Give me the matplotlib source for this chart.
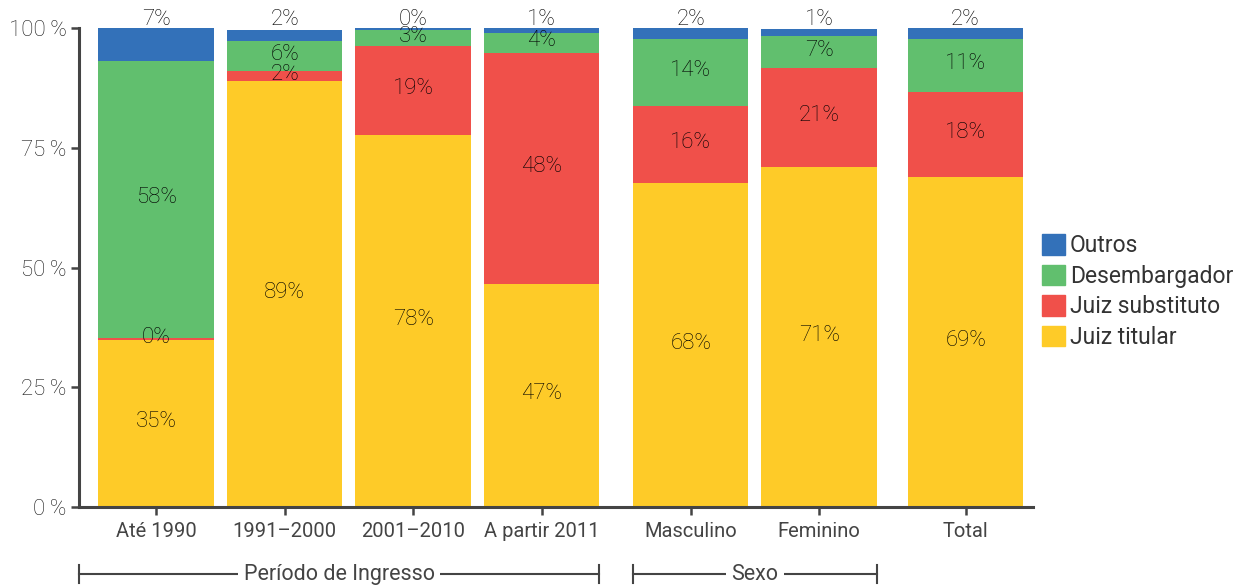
import matplotlib
matplotlib.use("Agg")
import matplotlib.pyplot as plt
import matplotlib.transforms as mtransforms
from matplotlib.patches import Patch
import numpy as np

plt.rcParams['font.family'] = ['Roboto', 'DejaVu Sans']

categorias = ['Até 1990', '1991–2000', '2001–2010', 'A partir 2011',
              'Masculino', 'Feminino', 'Total']
posicoes = [0, 1, 2, 3, 4.16, 5.16, 6.3]

juiz_titular = [34.9, 88.9, 77.6, 46.6, 67.6, 71.0, 68.9]
juiz_substituto = [0.4, 2.1, 18.6, 48.3, 16.1, 20.6, 17.8]
desembargador = [57.8, 6.3, 3.4, 4.1, 14.0, 6.8, 11.1]
outros = [6.9, 2.4, 0.4, 1.0, 2.3, 1.4, 2.2]

series = [('Juiz titular', juiz_titular, '#fecb28'),
          ('Juiz substituto', juiz_substituto, '#f0504a'),
          ('Desembargador', desembargador, '#61bf6e'),
          ('Outros', outros, '#3371b9')]

grupos = [('Período de Ingresso', -0.6, 3.45),
          ('Sexo', 3.71, 5.61)]

cinza = '#444444'

fig = plt.figure(figsize=(12.43, 5.86), dpi=100)
ax = fig.add_axes([0.0636, 0.1348, 0.7675, 0.8172])

x = np.array(posicoes)
base = np.zeros(len(x))
for nome, vals, cor in series:
    vals = np.array(vals)
    ax.bar(x, vals, 0.9, bottom=base, color=cor, label=nome, zorder=2)
    for xi, b, v in zip(x, base, vals):
        if nome == 'Outros':
            y = 101.9
        else:
            y = b + v / 2 + 0.4
        ax.text(xi, y, f"{v:.0f}%", ha='center', va='center',
                fontsize=16, fontweight='light', color='#000000', zorder=3)
    base = base + vals

ax.set_xlim(-0.6, 6.825)
ax.set_ylim(0, 100)
ax.set_yticks([0, 25, 50, 75, 100])
ax.set_yticklabels(['0\u2009%', '25\u2009%', '50\u2009%', '75\u2009%', '100\u2009%'],
                   fontweight='light')
ax.set_xticks(x)
ax.set_xticklabels(categorias)
ax.tick_params(axis='both', colors=cinza, labelcolor='#444444', labelsize=14.5,
               width=1.8, length=6)
ax.tick_params(axis='y', labelsize=16, labelcolor='#1a1a1a', pad=3)
ax.tick_params(axis='x', pad=5)
for s in ['top', 'right']:
    ax.spines[s].set_visible(False)
for s in ['left', 'bottom']:
    ax.spines[s].set_color(cinza)
    ax.spines[s].set_linewidth(2.2)

# chaves dos grupos
trans = mtransforms.blended_transform_factory(ax.transData, ax.transAxes)
yb = -0.14
for rotulo, x0, x1 in grupos:
    xm = (x0 + x1) / 2
    t = ax.text(xm, yb, rotulo, transform=trans, ha='center', va='center',
                fontsize=15.5, color='#444444', clip_on=False,
                bbox=dict(facecolor='white', edgecolor='none', pad=4))
    ax.plot([x0, x1], [yb, yb], transform=trans, color=cinza, lw=1.5,
            clip_on=False, zorder=1)
    for xe in (x0, x1):
        ax.plot([xe, xe], [yb - 0.018, yb + 0.018], transform=trans,
                color=cinza, lw=1.5, clip_on=False)
    t.set_zorder(5)

handles = [Patch(color=c, label=n) for n, v, c in series][::-1]
ax.legend(handles=handles, loc='center left', bbox_to_anchor=(1.0, 0.45),
          frameon=False, fontsize=16.5, handlelength=1.0, handleheight=1.0,
          handletextpad=0.2, labelspacing=0.32, borderaxespad=0,
          labelcolor='#333333')

fig.savefig('out.png', dpi=100)
